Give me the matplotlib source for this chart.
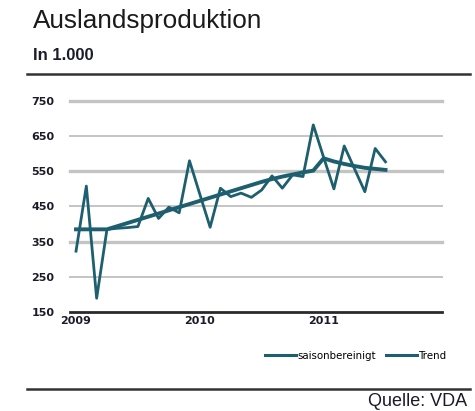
import matplotlib.pyplot as plt
from matplotlib.lines import Line2D
import numpy as np

# monthly values, Jan 2009 .. Jul 2011 (in 1.000)
saisonbereinigt = [323, 508, 189, 385, 388, 390, 393, 473, 416, 448, 432, 580,
                   485, 391, 502, 478, 488, 476, 497, 537, 502, 540, 535, 682,
                   590, 500, 622, 557, 492, 615, 577]
trend = [385, 385, 385, 385, 394, 403, 412, 421, 430, 439, 448, 457,
         466, 475, 484, 493, 502, 511, 520, 528, 535, 541, 547, 552,
         587, 578, 571, 565, 560, 557, 554]
year_labels = ["2009", "2010", "2011"]
yticks = [150, 250, 350, 450, 550, 650, 750]

months = np.arange(len(saisonbereinigt))
teal = "#1d5f6f"
txt = "#1c1c28"

fig = plt.figure(figsize=(4.75, 4.11), dpi=100)
ax = fig.add_axes([0.147, 0.2409, 0.784, 0.5134])

# gridlines, every other one thicker
for v in yticks[1:]:
    lw = 2.4 if (v - 150) // 100 % 2 == 0 else 1.4
    ax.axhline(v, color="#c4c4c4", lw=lw, zorder=1, clip_on=False)
ax.axhline(150, color="#2a2a2a", lw=2.0, zorder=1, clip_on=False)

ax.plot(months, saisonbereinigt, color=teal, lw=2.0, zorder=3)
ax.plot(months, trend, color=teal, lw=2.8, zorder=2)

ax.set_xlim(-0.6, 35.5)
ax.set_ylim(150, 750)
ax.set_yticks(yticks)
ax.set_xticks([0, 12, 24])
ax.set_xticklabels(year_labels)
for s in ax.spines.values():
    s.set_visible(False)
ax.tick_params(length=0, labelsize=8, labelcolor=txt, pad=3)
ax.tick_params(axis="y", pad=11)
for lab in ax.get_xticklabels() + ax.get_yticklabels():
    lab.set_fontweight("bold")
    lab.set_family("DejaVu Sans")

# title block
fig.text(0.069, 0.931, "Auslandsproduktion", fontsize=18.8, family="Liberation Sans",
         color="#1a1a1a", va="baseline")
fig.text(0.069, 0.855, "In 1.000", fontsize=12, family="Liberation Sans",
         weight="bold", color=txt, va="baseline")
fig.add_artist(Line2D([27 / 475, 470 / 475], [1 - 74 / 411] * 2, color="#333333", lw=1.8))
fig.add_artist(Line2D([27 / 475, 470 / 475], [1 - 389 / 411] * 2, color="#333333", lw=1.8))
fig.text(467 / 475, 1 - 406 / 411, "Quelle: VDA", fontsize=13, family="Liberation Sans",
         color="#1a1a2a", ha="right", va="baseline")

handles = [Line2D([], [], color=teal, lw=2.2), Line2D([], [], color=teal, lw=2.2)]
fig.legend(handles, ["saisonbereinigt", "Trend"], loc="center right",
           bbox_to_anchor=(446 / 475, 1 - 356 / 411), ncol=2, frameon=False,
           fontsize=7.4, handlelength=3.0, handletextpad=0.1, columnspacing=1.0,
           borderpad=0, borderaxespad=0)

fig.savefig("out.png", dpi=100)
